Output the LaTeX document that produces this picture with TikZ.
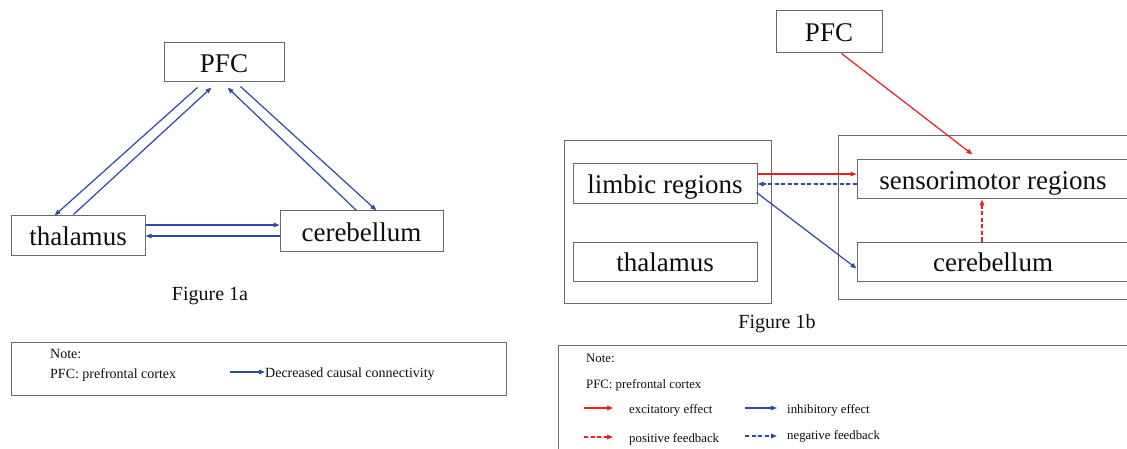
\documentclass[tikz,border=0pt]{standalone}
\usepackage{fontspec}
\setmainfont{Liberation Serif}
\newfontfamily\regionfont{Liberation Serif}
\usetikzlibrary{arrows.meta,calc}
\definecolor{ablue}{RGB}{50,72,168}
\definecolor{ared}{RGB}{238,30,36}
\definecolor{boxgray}{RGB}{105,105,105}
\definecolor{ink}{RGB}{15,15,15}
\begin{document}
\begin{tikzpicture}[x=1pt,y=-1pt,
  region/.style={draw=boxgray,line width=1pt,inner sep=0pt,text=ink,font=\regionfont\fontsize{27}{30}\selectfont,text height=24pt,text depth=4pt},
  frame/.style={draw=boxgray,line width=1pt},
  tip/.style={-{Triangle[length=6pt,width=4.5pt]}},
  bluearrow/.style={tip,draw=ablue,fill=ablue,line width=1.2pt},
  redarrow/.style={tip,draw=ared,fill=ared,line width=1.2pt},
  dashline/.style={dash pattern=on 4pt off 2.5pt,line width=1.5pt},
  caption/.style={font=\fontsize{20}{24}\selectfont,anchor=base,text=ink},
  notea/.style={font=\fontsize{14}{16}\selectfont,anchor=base west,inner sep=0pt,text=ink},
  noteb/.style={font=\fontsize{12.8}{15}\selectfont,anchor=base west,inner sep=0pt,text=ink}]
\useasboundingbox (0,0) rectangle (1127,449);
\clip (0,0) rectangle (1127,449);
\fill[white] (0,0) rectangle (1127,449);

% ---------------- Figure 1a ----------------
\node[region,minimum width=120pt,minimum height=39pt] (pfcA) at (224,62.5) {PFC};
\node[region,minimum width=134pt,minimum height=39pt] (thalA) at (78,235.5) {thalamus};
\node[region,minimum width=163pt,minimum height=40pt] (cereA) at (361.5,231) {cerebellum};

\draw[bluearrow] ($(pfcA.south west)+(34,5)$) -- ($(thalA.north west)+(44,0)$);
\draw[bluearrow] ($(thalA.north west)+(63,-1)$) -- ($(pfcA.south west)+(48,5)$);
\draw[bluearrow] ($(cereA.north west)+(77,0)$) -- ($(pfcA.south west)+(64,5)$);
\draw[bluearrow] ($(pfcA.south west)+(77,4)$) -- ($(cereA.north west)+(97,0)$);
\draw[bluearrow] ($(thalA.north east)+(0,9.5)$) -- ($(cereA.north west)+(0,14.5)$);
\draw[bluearrow] ($(cereA.north west)+(0,25.5)$) -- ($(thalA.north east)+(0,20.5)$);

\node[caption] (capA) at (210,300.5) {Figure 1a};

\draw[frame] (11,342) rectangle (506,395);
\node[notea] (noteA) at (50,358) {Note:};
\node[notea] (pfcNoteA) at (50,378) {PFC: prefrontal cortex};
\coordinate (legA1) at (230,372);
\node[notea] (legAtext) at (265,377) {Decreased causal connectivity};
\draw[bluearrow] (legA1) -- (legAtext.west |- legA1);

% ---------------- Figure 1b ----------------
\node[region,minimum width=106pt,minimum height=42pt] (pfcB) at (829,32) {PFC};
\draw[frame] (564,141) rectangle (771,303);
\draw[frame] (838,136) rectangle (1150,299);
\node[region,minimum width=184pt,minimum height=40pt] (limB) at (665,184) {limbic regions};
\node[region,minimum width=184pt,minimum height=39pt] (thalB) at (665,261.5) {thalamus};
\node[region,minimum width=272pt,minimum height=39pt] (sensB) at (993,179.5) {sensorimotor regions};
\node[region,minimum width=272pt,minimum height=39pt] (cereB) at (993,261.5) {cerebellum};

\draw[redarrow] ($(pfcB.south west)+(66,0)$) -- ($(sensB.north west)+(116,-5)$);
\draw[redarrow] ($(limB.north east)+(0,10.5)$) -- ($(sensB.north west)+(0,14.5)$);
\draw[bluearrow,dashline] ($(sensB.north west)+(0,24.5)$) -- ($(limB.north east)+(0,20.5)$);
\draw[bluearrow] ($(limB.north east)+(-1,29)$) -- ($(cereB.north west)+(0,27)$);
\draw[redarrow,dashline] ($(cereB.north west)+(125.5,0)$) -- ($(sensB.south west)+(125.5,0)$);

\node[caption] (capB) at (777,328) {Figure 1b};

\draw[frame] (558,345) rectangle (1150,470);
\node[noteb] (noteB) at (586,362) {Note:};
\node[noteb] (pfcNoteB) at (586,388) {PFC: prefrontal cortex};
\node[noteb] (excT) at (629,413) {excitatory effect};
\node[noteb] (inhT) at (787,413) {inhibitory effect};
\node[noteb] (posT) at (629,442) {positive feedback};
\node[noteb] (negT) at (787,439) {negative feedback};
\coordinate (l1) at (584,408);
\coordinate (l2) at (613,408);
\coordinate (l3) at (745,408);
\coordinate (l4) at (777,408);
\coordinate (l5) at (584,437);
\coordinate (l6) at (613,437);
\coordinate (l7) at (745,436);
\coordinate (l8) at (777,436);
\draw[redarrow] (l1) -- (l2);
\draw[bluearrow] (l3) -- (l4);
\draw[redarrow,dashline] (l5) -- (l6);
\draw[bluearrow,dashline] (l7) -- (l8);
\end{tikzpicture}
\end{document}
